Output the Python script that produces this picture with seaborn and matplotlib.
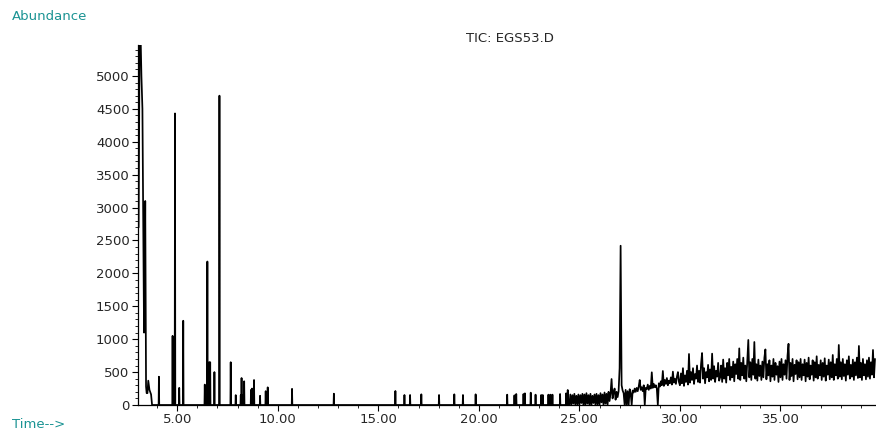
import numpy as np
import pandas as pd
import seaborn as sns
import matplotlib.pyplot as plt
from matplotlib.ticker import MultipleLocator, FormatStrFormatter


# solvent / early eluting cluster (min, abundance)
cluster_times = [3.08, 3.13, 3.18, 3.22, 3.27, 3.31, 3.35, 3.38, 3.41, 3.45,
                 3.48, 3.52, 3.56, 3.62, 3.70, 3.75]
cluster_abund = [2700, 5600, 5600, 5000, 4500, 2700, 1100, 1450, 3100, 280,
                 180, 180, 370, 230, 160, 0]

# isolated peaks before the baseline rise
peak_times = [4.09, 4.77, 4.89, 5.10, 5.30, 6.37, 6.50, 6.59, 6.64, 6.85,
              7.10, 7.66, 7.91, 8.16, 8.20, 8.26, 8.33, 8.67, 8.72, 8.82,
              9.12, 9.40, 9.45, 9.50, 10.71, 12.79, 15.85, 16.30, 16.58, 17.14,
              18.02, 18.78, 19.21, 19.84, 21.41, 21.77, 21.86, 22.22, 22.29, 22.58,
              22.82, 23.10, 23.18, 23.46, 23.56, 23.66, 24.04, 24.34, 24.42]
peak_abund = [430, 1050, 4430, 260, 1280, 310, 2180, 650, 650, 500,
              4700, 650, 150, 150, 410, 150, 360, 230, 250, 380,
              140, 210, 180, 268, 245, 172, 213, 152, 152, 162,
              152, 162, 152, 162, 157, 147, 167, 167, 177, 187,
              157, 152, 152, 157, 157, 157, 167, 177, 228]

# noisy baseline from 24.50 min, one scan every 0.05 min
noise_start = 24.5
noise_step = 0.05
noise_abund = [
    0, 160, 0, 150, 20, 170, 0, 140, 10, 160,
    0, 150, 30, 170, 0, 160, 0, 180, 20, 150, 0, 170, 0, 140, 30, 160, 0, 170, 10, 150,
    0, 180, 40, 160, 0, 190, 20, 170, 0, 200, 60, 180, 395, 100, 190, 250, 80, 200, 120, 210,
    560, 2420, 300, 220, 180, 0, 230, 0, 210, 0, 240, 180, 0, 220, 190, 250, 200, 260, 210, 280,
    380, 230, 270, 210, 300, 0, 260, 240, 310, 230, 290, 250, 497, 260, 320, 270, 300, 250, 0, 330,
    280, 360, 300, 517, 290, 380, 320, 410, 300, 370, 330, 420, 310, 507, 340, 400, 320, 430, 500, 350,
    300, 480, 330, 560, 290, 450, 350, 520, 310, 775, 340, 500, 380, 560, 320, 470, 400, 600, 350, 520,
    340, 620, 790, 400, 560, 330, 500, 420, 610, 360, 540, 380, 780, 400, 590, 350, 520, 430, 640, 370,
    420, 600, 350, 690, 400, 560, 340, 640, 450, 700, 380, 580, 420, 660, 360, 620, 470, 700, 400, 860,
    380, 640, 450, 720, 400, 600, 360, 680, 988, 420, 650, 380, 700, 460, 957, 400, 620, 370, 690, 440,
    600, 380, 660, 420, 720, 845, 390, 620, 450, 680, 360, 600, 430, 700, 380, 640, 460, 590, 350, 660,
    420, 700, 380, 620, 460, 680, 400, 750, 930, 380, 640, 440, 700, 360, 610, 470, 680, 390, 650, 420,
    700, 380, 620, 450, 690, 360, 640, 430, 720, 390, 600, 460, 680, 370, 650, 420, 740, 400, 610, 450,
    680, 380, 640, 430, 710, 370, 600, 460, 690, 390, 650, 420, 760, 380, 620, 450, 700, 400, 912, 430,
    650, 390, 700, 440, 620, 370, 680, 460, 740, 400, 610, 430, 690, 380, 650, 450, 720, 410, 897, 420,
    640, 380, 700, 450, 620, 390, 680, 430, 720, 400, 650, 460, 836, 420, 700,
]

x_ticks = [5, 10, 15, 20, 25, 30, 35]
y_ticks = [0, 500, 1000, 1500, 2000, 2500, 3000, 3500, 4000, 4500, 5000]

teal = '#1a9393'


# build the trace: cluster, then each peak as a single scan on a zero baseline
times = list(cluster_times)
abund = list(cluster_abund)
for t, h in zip(peak_times, peak_abund):
    times += [t - 0.015, t, t + 0.015]
    abund += [0, h, 0]
times += [round(noise_start + i * noise_step, 2) for i in range(len(noise_abund))]
abund += noise_abund

tic = pd.DataFrame({'Time': times, 'Abundance': abund})

sns.set_style('white')
plt.rcParams['font.family'] = ['DejaVu Sans']

fig = plt.figure(figsize=(8.76, 4.32), dpi=100)
ax = fig.add_axes([138 / 876, 1 - 405 / 432, 1 - 138 / 876, (405 - 45) / 432])

sns.lineplot(data=tic, x='Time', y='Abundance', estimator=None, sort=True,
             color='black', linewidth=1.25, ax=ax)

ax.set_xlim(3.05, 39.75)
ax.set_ylim(0, 5470)
ax.set_xlabel('')
ax.set_ylabel('')
ax.set_xticks(x_ticks)
ax.set_yticks(y_ticks)
ax.xaxis.set_major_formatter(FormatStrFormatter('%.2f'))
ax.xaxis.set_minor_locator(MultipleLocator(1))
ax.yaxis.set_minor_locator(MultipleLocator(100))
ax.tick_params(axis='both', which='major', length=4, width=0.8, color='black',
               labelsize=9.5, direction='out', pad=2)
ax.tick_params(axis='both', which='minor', length=2, width=0.6, color='black',
               direction='out')
ax.tick_params(left=True, bottom=True, which='both')

for side in ['top', 'right']:
    ax.spines[side].set_visible(False)
for side in ['left', 'bottom']:
    ax.spines[side].set_color('black')
    ax.spines[side].set_linewidth(0.9)

ax.set_title('TIC: EGS53.D', fontsize=9.5, pad=2, x=0.504)

fig.text(12 / 876, 1 - 16 / 432, 'Abundance', color=teal, fontsize=9.5,
         ha='left', va='center')
fig.text(12 / 876, 1 - 425 / 432, 'Time-->', color=teal, fontsize=9.5,
         ha='left', va='center')

fig.savefig('out.png', dpi=100)
